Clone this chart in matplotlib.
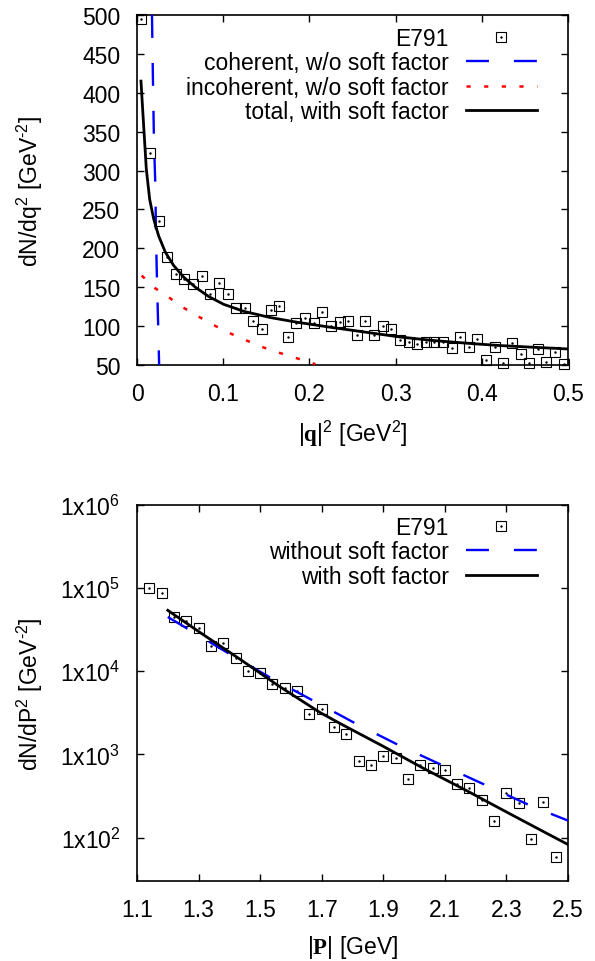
import matplotlib
matplotlib.use('Agg')
import matplotlib.pyplot as plt

plt.rcParams['font.family'] = ['Liberation Sans', 'DejaVu Sans']
plt.rcParams['mathtext.fontset'] = 'custom'
plt.rcParams['mathtext.rm'] = 'Liberation Sans'
plt.rcParams['mathtext.it'] = 'Liberation Sans:italic'
plt.rcParams['mathtext.bf'] = 'Liberation Serif:bold'
plt.rcParams['lines.scale_dashes'] = False

FS = 16.5

# ---------------- top panel data ----------------
q2_data = [0.005, 0.015, 0.025, 0.035, 0.045, 0.055, 0.065, 0.075, 0.085, 0.095,
           0.105, 0.115, 0.125, 0.135, 0.145, 0.155, 0.165, 0.175, 0.185, 0.195,
           0.205, 0.215, 0.225, 0.235, 0.245, 0.255, 0.265, 0.275, 0.285, 0.295,
           0.305, 0.315, 0.325, 0.335, 0.345, 0.355, 0.365, 0.375, 0.385, 0.395,
           0.405, 0.415, 0.425, 0.435, 0.445, 0.455, 0.465, 0.475, 0.485, 0.495]
dn_q2_data = [495, 323, 235, 189, 167, 161, 154, 164, 141, 156,
              141, 123, 123, 107, 96, 121, 126, 86, 104, 110,
              104, 118, 100, 105, 106, 88, 106, 89, 100, 96,
              82, 80, 77, 79, 79, 80, 72, 86, 73, 83,
              56, 73, 52, 78, 64, 52, 71, 54, 67, 51]

coh_x = [0.0174, 0.0182, 0.0197, 0.0213, 0.0220, 0.0232, 0.0247, 0.0257]
coh_y = [500, 437, 336, 281, 219, 157, 95, 48]

incoh_x = [0.0054, 0.0213, 0.0375, 0.0534, 0.0708, 0.0882, 0.1052, 0.1234,
           0.1408, 0.160, 0.1775, 0.1988, 0.207]
incoh_y = [165, 148.5, 136.5, 124, 112.6, 101.8, 92, 83.4, 74.8, 67.6, 61.2, 54.3, 51]

tot_x = [0.0046, 0.0077, 0.0108, 0.0147, 0.0193, 0.0251, 0.0329, 0.0425, 0.0541,
         0.0677, 0.0832, 0.1006, 0.1238, 0.1547, 0.1856, 0.2277, 0.2665, 0.305,
         0.3437, 0.3825, 0.421, 0.46, 0.5]
tot_y = [415, 358, 302, 263, 238, 216, 195, 178, 163, 150, 138, 128, 119, 111, 105,
         98, 92, 86, 81.5, 78, 75, 72.8, 70.6]

q2_ticks = [0, 0.1, 0.2, 0.3, 0.4, 0.5]
q2_ticklabels = ['0', '0.1', '0.2', '0.3', '0.4', '0.5']
dn_ticks = [50, 100, 150, 200, 250, 300, 350, 400, 450, 500]

# ---------------- bottom panel data ----------------
p_data = [1.14, 1.18, 1.22, 1.26, 1.30, 1.34, 1.38, 1.42, 1.46, 1.50, 1.54, 1.58,
          1.62, 1.66, 1.70, 1.74, 1.78, 1.82, 1.86, 1.90, 1.94, 1.98, 2.02, 2.06,
          2.10, 2.14, 2.18, 2.22, 2.26, 2.30, 2.34, 2.38, 2.42, 2.46]
dn_p_data = [101000, 88300, 44700, 40700, 32700, 20200, 21900, 14600, 10070, 9480,
             6970, 6310, 5710, 3040, 3475, 2113, 1775, 841, 746, 955, 904, 507,
             741, 692, 650, 440, 395, 286, 157, 348, 261, 97, 266, 59]

nosoft_x = [1.20, 1.267, 1.402, 1.5375, 1.673, 1.8135, 1.954, 2.095, 2.236, 2.382, 2.5]
nosoft_y = [44980, 31990, 16030, 8200, 4416, 2317, 1271, 731, 421, 238, 160]

soft_x = [1.20, 1.305, 1.4345, 1.5645, 1.694, 1.759, 1.90, 2.03, 2.171, 2.301, 2.409, 2.5]
soft_y = [54080, 29240, 13960, 6501, 3199, 2360, 1250, 681, 366, 202, 124, 82.4]

p_ticks = [1.1, 1.3, 1.5, 1.7, 1.9, 2.1, 2.3, 2.5]
p_ticklabels = ['1.1', '1.3', '1.5', '1.7', '1.9', '2.1', '2.3', '2.5']
log_ticks = [1e2, 1e3, 1e4, 1e5, 1e6]
log_ticklabels = [r'1x10$^{2}$', r'1x10$^{3}$', r'1x10$^{4}$', r'1x10$^{5}$', r'1x10$^{6}$']

W, H = 595, 962
fig = plt.figure(figsize=(W / 100, H / 100), dpi=100)

def px_axes(l, t, r, b):
    return fig.add_axes([l / W, 1 - b / H, (r - l) / W, (b - t) / H])

ax1 = px_axes(137, 16, 568, 366)
ax2 = px_axes(137, 506, 568, 882)

BLUE = '#0000ff'
RED = '#ff0000'
MS = 7.9
dash_blue = (0, (16.5, 18))
dash_red = (0, (3, 9.7))


def style(ax):
    for s in ax.spines.values():
        s.set_linewidth(1.2)
    ax.tick_params(which='both', direction='in', top=True, right=True,
                   length=5, width=1.0, labelsize=FS, pad=12)
    ax.tick_params(which='minor', length=0)


def data_marks(ax, x, y):
    sq, = ax.plot(x, y, linestyle='none', marker='s', ms=MS, mfc='none',
                  mec='black', mew=0.8, clip_on=False, zorder=3)
    dot, = ax.plot(x, y, linestyle='none', marker='.', ms=1.5, color='black',
                   clip_on=False, zorder=3)
    return (sq, dot)

# ---- top ----
h_e791 = data_marks(ax1, q2_data, dn_q2_data)
h_coh, = ax1.plot(coh_x, coh_y, color=BLUE, lw=1.7, linestyle=dash_blue, zorder=4)
h_inc, = ax1.plot(incoh_x, incoh_y, color=RED, lw=1.8, linestyle=dash_red, zorder=4)
h_tot, = ax1.plot(tot_x, tot_y, color='black', lw=2.0, zorder=5)
ax1.set_xlim(0, 0.5)
ax1.set_ylim(50, 500)
ax1.set_xticks(q2_ticks)
ax1.set_xticklabels(q2_ticklabels)
ax1.set_yticks(dn_ticks)
style(ax1)
ax1.set_xlabel(r'$|\mathbf{q}|^{2}$ [GeV$^{2}$]', fontsize=FS)
ax1.set_ylabel(r'dN/dq$^{2}$ [GeV$^{\text{-}2}$]', fontsize=FS)
ax1.yaxis.set_label_coords((45 - 137) / 431, 0.5)
ax1.xaxis.set_label_coords(0.5, -(449 - 366) / 350)
ax1.xaxis.label.set_va('bottom')

leg1 = ax1.legend([h_e791, h_coh, h_inc, h_tot],
                  ['E791', 'coherent, w/o soft factor', 'incoherent, w/o soft factor',
                   'total, with soft factor'],
                  loc='upper right', bbox_to_anchor=(537 / W, 1 - 28 / H),
                  bbox_transform=fig.transFigure, frameon=False, markerfirst=False,
                  fontsize=FS, handlelength=3.1, handletextpad=0.75,
                  labelspacing=0.055, borderpad=0, borderaxespad=0)

# ---- bottom ----
h_e791b = data_marks(ax2, p_data, dn_p_data)
h_ns, = ax2.plot(nosoft_x, nosoft_y, color=BLUE, lw=1.7, linestyle=dash_blue, zorder=4)
h_s, = ax2.plot(soft_x, soft_y, color='black', lw=2.0, zorder=5)
ax2.set_yscale('log')
ax2.set_xlim(1.1, 2.5)
ax2.set_ylim(30, 1e6)
ax2.set_xticks(p_ticks)
ax2.set_xticklabels(p_ticklabels)
ax2.set_yticks(log_ticks)
ax2.set_yticklabels(log_ticklabels)
style(ax2)
ax2.set_xlabel(r'$|\mathbf{P}|$ [GeV]', fontsize=FS)
ax2.set_ylabel(r'dN/dP$^{2}$ [GeV$^{\text{-}2}$]', fontsize=FS)
ax2.yaxis.set_label_coords((45 - 137) / 431, 0.5)
ax2.xaxis.set_label_coords(0.5, -(961 - 882) / 376)
ax2.xaxis.label.set_va('bottom')

leg2 = ax2.legend([h_e791b, h_ns, h_s],
                  ['E791', 'without soft factor', 'with soft factor'],
                  loc='upper right', bbox_to_anchor=(537 / W, 1 - 517 / H),
                  bbox_transform=fig.transFigure, frameon=False, markerfirst=False,
                  fontsize=FS, handlelength=3.1, handletextpad=0.75,
                  labelspacing=0.055, borderpad=0, borderaxespad=0)

fig.savefig('out.png', dpi=100)
